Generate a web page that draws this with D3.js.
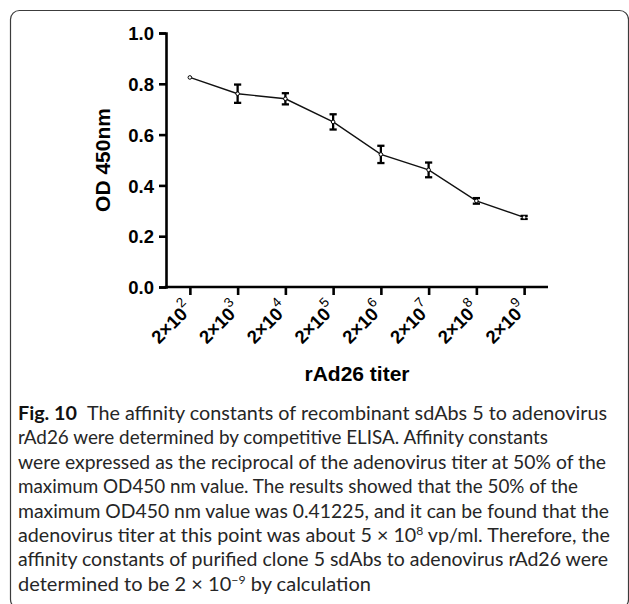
<!DOCTYPE html>
<html><head><meta charset="utf-8">
<script src="https://cdn.jsdelivr.net/npm/d3@7"></script>
<style>html,body{margin:0;padding:0;background:#fff;}svg{display:block;}</style>
</head><body>
<script>
// ---- data ----
const titerExp = [2, 3, 4, 5, 6, 7, 8, 9];           // x categories: 2×10^exp
const odMean   = [0.825, 0.761, 0.741, 0.650, 0.522, 0.461, 0.339, 0.274];
const odErr    = [0.000, 0.036, 0.022, 0.030, 0.034, 0.029, 0.011, 0.006];
const yTicks   = [0.0, 0.2, 0.4, 0.6, 0.8, 1.0];
const yTitle = "OD 450nm";
const xTitle = "rAd26 titer";
const captionLines = [
  [{b:"Fig. 10"},{t:"\u2002The affinity constants of recombinant sdAbs 5 to adenovirus"}],
  [{t:"rAd26 were determined by competitive ELISA. Affinity constants"}],
  [{t:"were expressed as the reciprocal of the adenovirus titer at 50% of the"}],
  [{t:"maximum OD450 nm value. The results showed that the 50% of the"}],
  [{t:"maximum OD450 nm value was 0.41225, and it can be found that the"}],
  [{t:"adenovirus titer at this point was about 5 \u00d7 10"},{s:"8"},{t:" vp/ml. Therefore, the"}],
  [{t:"affinity constants of purified clone 5 sdAbs to adenovirus rAd26 were"}],
  [{t:"determined to be 2 \u00d7 10"},{s:"\u22129"},{t:" by calculation"}]
];
const captionWidths = [589, 530, 588, 560, 591, 592, 590, 353];

const W = 629, H = 604;
const svg = d3.select("body").append("svg").attr("width", W).attr("height", H);

// frame
svg.append("rect").attr("x", 10.5).attr("y", 10.5).attr("width", 618).attr("height", 598)
  .attr("rx", 9).attr("fill", "none").attr("stroke", "#3c3c3c").attr("stroke-width", 1.2);

const x0 = 166, x1 = 548, y0 = 287, y1 = 33;
const x = d3.scalePoint().domain(titerExp).range([x0, x1]).padding(0.5);
const y = d3.scaleLinear().domain([0, 1]).range([y0, y1]);

const g = svg.append("g");

// y axis
const yAxis = g.append("g").attr("transform", `translate(${x0},0)`)
  .call(d3.axisLeft(y).tickValues(yTicks).tickFormat(d3.format(".1f")).tickSizeOuter(0).tickSize(7).tickPadding(5));
yAxis.select(".domain").attr("stroke", "#000").attr("stroke-width", 2.6);
yAxis.selectAll(".tick line").attr("stroke", "#000").attr("stroke-width", 2.6);
yAxis.selectAll(".tick text").attr("font-family", "Liberation Sans, Arial, sans-serif")
  .attr("font-weight", "bold").attr("font-size", 18.5).attr("fill", "#000").attr("dy", "0.36em");

// x axis
const xAxis = g.append("g").attr("transform", `translate(0,${y0})`)
  .call(d3.axisBottom(x).tickSizeOuter(0).tickSize(8).tickFormat(""));
xAxis.select(".domain").attr("stroke", "#000").attr("stroke-width", 2.6)
  .attr("d", `M${x0 - 1.3},0H${x1}`);
xAxis.selectAll(".tick line").attr("stroke", "#000").attr("stroke-width", 2.6);
xAxis.selectAll(".tick text").remove();

// rotated x labels
const xl = g.append("g").selectAll("text").data(titerExp).join("text")
  .attr("transform", d => `translate(${x(d) + 4},${y0 + 23}) rotate(-45)`)
  .attr("text-anchor", "end")
  .attr("font-family", "Liberation Sans, Arial, sans-serif")
  .attr("fill", "#000");
xl.append("tspan").attr("font-weight", "bold").attr("font-size", 18.5).text("2\u00d710");
xl.append("tspan").attr("font-size", 13.5).attr("dy", -10).text(d => d);

// titles
svg.append("text").attr("transform", `translate(110,${(y0 + y1) / 2}) rotate(-90)`)
  .attr("text-anchor", "middle").attr("font-family", "Liberation Sans, Arial, sans-serif")
  .attr("font-weight", "bold").attr("font-size", 21).attr("fill", "#000").text(yTitle);
svg.append("text").attr("x", (x0 + x1) / 2).attr("y", 381)
  .attr("text-anchor", "middle").attr("font-family", "Liberation Sans, Arial, sans-serif")
  .attr("font-weight", "bold").attr("font-size", 21).attr("fill", "#000").text(xTitle);

// data
const pts = titerExp.map((d, i) => ({x: d, m: odMean[i], e: odErr[i]}));
g.append("path").datum(pts)
  .attr("d", d3.line().x(d => x(d.x)).y(d => y(d.m)))
  .attr("fill", "none").attr("stroke", "#111").attr("stroke-width", 1.4);
const eb = g.append("g").selectAll("g").data(pts.filter(d => d.e > 0)).join("g");
eb.append("line").attr("x1", d => x(d.x)).attr("x2", d => x(d.x))
  .attr("y1", d => y(d.m - d.e)).attr("y2", d => y(d.m + d.e))
  .attr("stroke", "#000").attr("stroke-width", 2.3);
[1, -1].forEach(s => {
  eb.append("line").attr("x1", d => x(d.x) - 3.6).attr("x2", d => x(d.x) + 3.6)
    .attr("y1", d => y(d.m + s * d.e)).attr("y2", d => y(d.m + s * d.e))
    .attr("stroke", "#000").attr("stroke-width", 2.3);
});
g.append("g").selectAll("circle").data(pts).join("circle")
  .attr("cx", d => x(d.x)).attr("cy", d => y(d.m)).attr("r", 1.8)
  .attr("fill", "#fff").attr("stroke", "#000").attr("stroke-width", 1);

// caption
const cap = svg.append("g").attr("font-family", "Lato, 'Open Sans', sans-serif").attr("fill", "#262626");
captionLines.forEach((parts, i) => {
  const t = cap.append("text").attr("x", 18).attr("y", 420 + i * 24.4).attr("font-size", 19.5)
    .attr("textLength", captionWidths[i]).attr("lengthAdjust", "spacingAndGlyphs");
  let sup = false;
  parts.forEach(p => {
    if (p.b) t.append("tspan").attr("font-weight", "bold").attr("fill", "#111").text(p.b);
    if (p.t) { t.append("tspan").attr("dy", sup ? 7 : null).text(p.t); sup = false; }
    if (p.s) { t.append("tspan").attr("font-size", 12).attr("dy", -7).text(p.s); sup = true; }
  });
});
</script>
</body></html>
